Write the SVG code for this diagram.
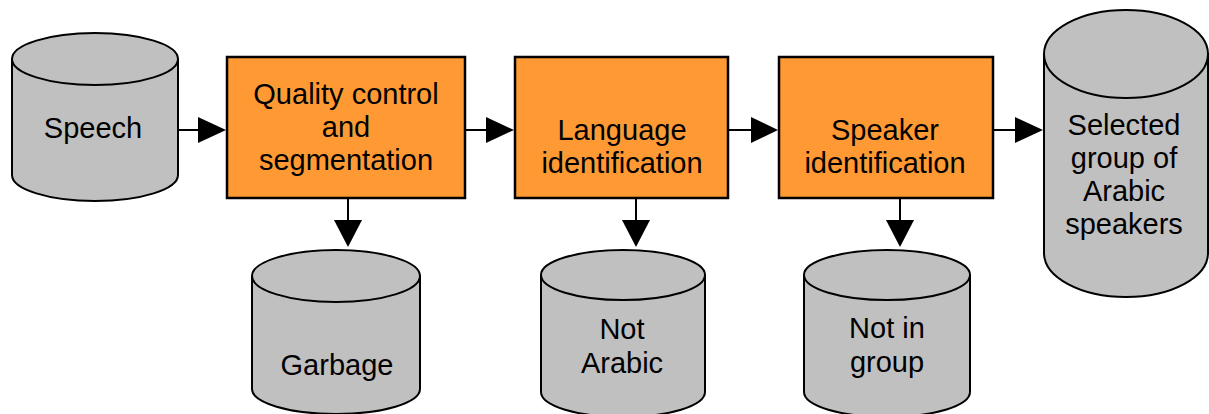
<svg xmlns="http://www.w3.org/2000/svg" width="1209" height="414" viewBox="0 0 1209 414">
<style>
.cyl{fill:#C0C0C0;stroke:#000;stroke-width:2}
.box{fill:#FF9933;stroke:#000;stroke-width:2.5}
.t{font-family:"Liberation Sans",Arial,sans-serif;font-size:29px;fill:#000;text-anchor:middle}
.ln{stroke:#000;stroke-width:2;fill:none}
.ah{fill:#000}
</style>
<rect width="1209" height="414" fill="#fff"/>
<g id="speech">
<path class="cyl" d="M12,59 L12,175 A83,26 0 0 0 178,175 L178,59 Z"/>
<ellipse class="cyl" cx="95" cy="59" rx="83" ry="26"/>
<text class="t" x="93" y="138">Speech</text>
</g>
<g id="quality">
<rect class="box" x="227" y="57" width="238" height="141"/>
<text class="t" x="346" y="104">Quality control</text>
<text class="t" x="346" y="137">and</text>
<text class="t" x="346" y="170">segmentation</text>
</g>
<g id="language">
<rect class="box" x="515" y="57" width="213" height="141"/>
<text class="t" x="622" y="140">Language</text>
<text class="t" x="622" y="173">identification</text>
</g>
<g id="speaker">
<rect class="box" x="779" y="57" width="214" height="141"/>
<text class="t" x="885" y="140">Speaker</text>
<text class="t" x="885" y="173">identification</text>
</g>
<g id="selected">
<path class="cyl" d="M1044,54 L1044,253 A82,44 0 0 0 1208,253 L1208,54 Z"/>
<ellipse class="cyl" cx="1126" cy="54" rx="82" ry="44"/>
<text class="t" x="1124" y="135">Selected</text>
<text class="t" x="1124" y="168">group of</text>
<text class="t" x="1124" y="201">Arabic </text>
<text class="t" x="1124" y="234">speakers</text>
</g>
<g id="garbage">
<path class="cyl" d="M252,276 L252,389 A84,25 0 0 0 420,389 L420,276 Z"/>
<ellipse class="cyl" cx="336" cy="276" rx="84" ry="26"/>
<text class="t" x="337" y="375">Garbage</text>
</g>
<g id="notarabic">
<path class="cyl" d="M541,275 L541,392 A82,25 0 0 0 705,392 L705,275 Z"/>
<ellipse class="cyl" cx="623" cy="275" rx="82" ry="25"/>
<text class="t" x="622" y="339">Not</text>
<text class="t" x="622" y="373">Arabic</text>
</g>
<g id="notingroup">
<path class="cyl" d="M804,275 L804,392 A83,25 0 0 0 970,392 L970,275 Z"/>
<ellipse class="cyl" cx="887" cy="275" rx="83" ry="25"/>
<text class="t" x="887" y="338">Not in</text>
<text class="t" x="887" y="372">group</text>
</g>
<g id="connectors">
<line class="ln" x1="178" y1="130" x2="199" y2="130"/>
<polygon class="ah" points="198,117 226,130 198,143"/>
<line class="ln" x1="466" y1="130" x2="487" y2="130"/>
<polygon class="ah" points="486,117 514,130 486,143"/>
<line class="ln" x1="729" y1="130" x2="752" y2="130"/>
<polygon class="ah" points="751,117 778,130 751,143"/>
<line class="ln" x1="994" y1="130" x2="1016" y2="130"/>
<polygon class="ah" points="1015,117 1043,130 1015,143"/>
<line class="ln" x1="348" y1="199" x2="348" y2="221"/>
<polygon class="ah" points="334,220 362,220 348,247"/>
<line class="ln" x1="636" y1="199" x2="636" y2="221"/>
<polygon class="ah" points="622,220 650,220 636,247"/>
<line class="ln" x1="900" y1="199" x2="900" y2="221"/>
<polygon class="ah" points="886,220 914,220 900,247"/>
</g>
</svg>
